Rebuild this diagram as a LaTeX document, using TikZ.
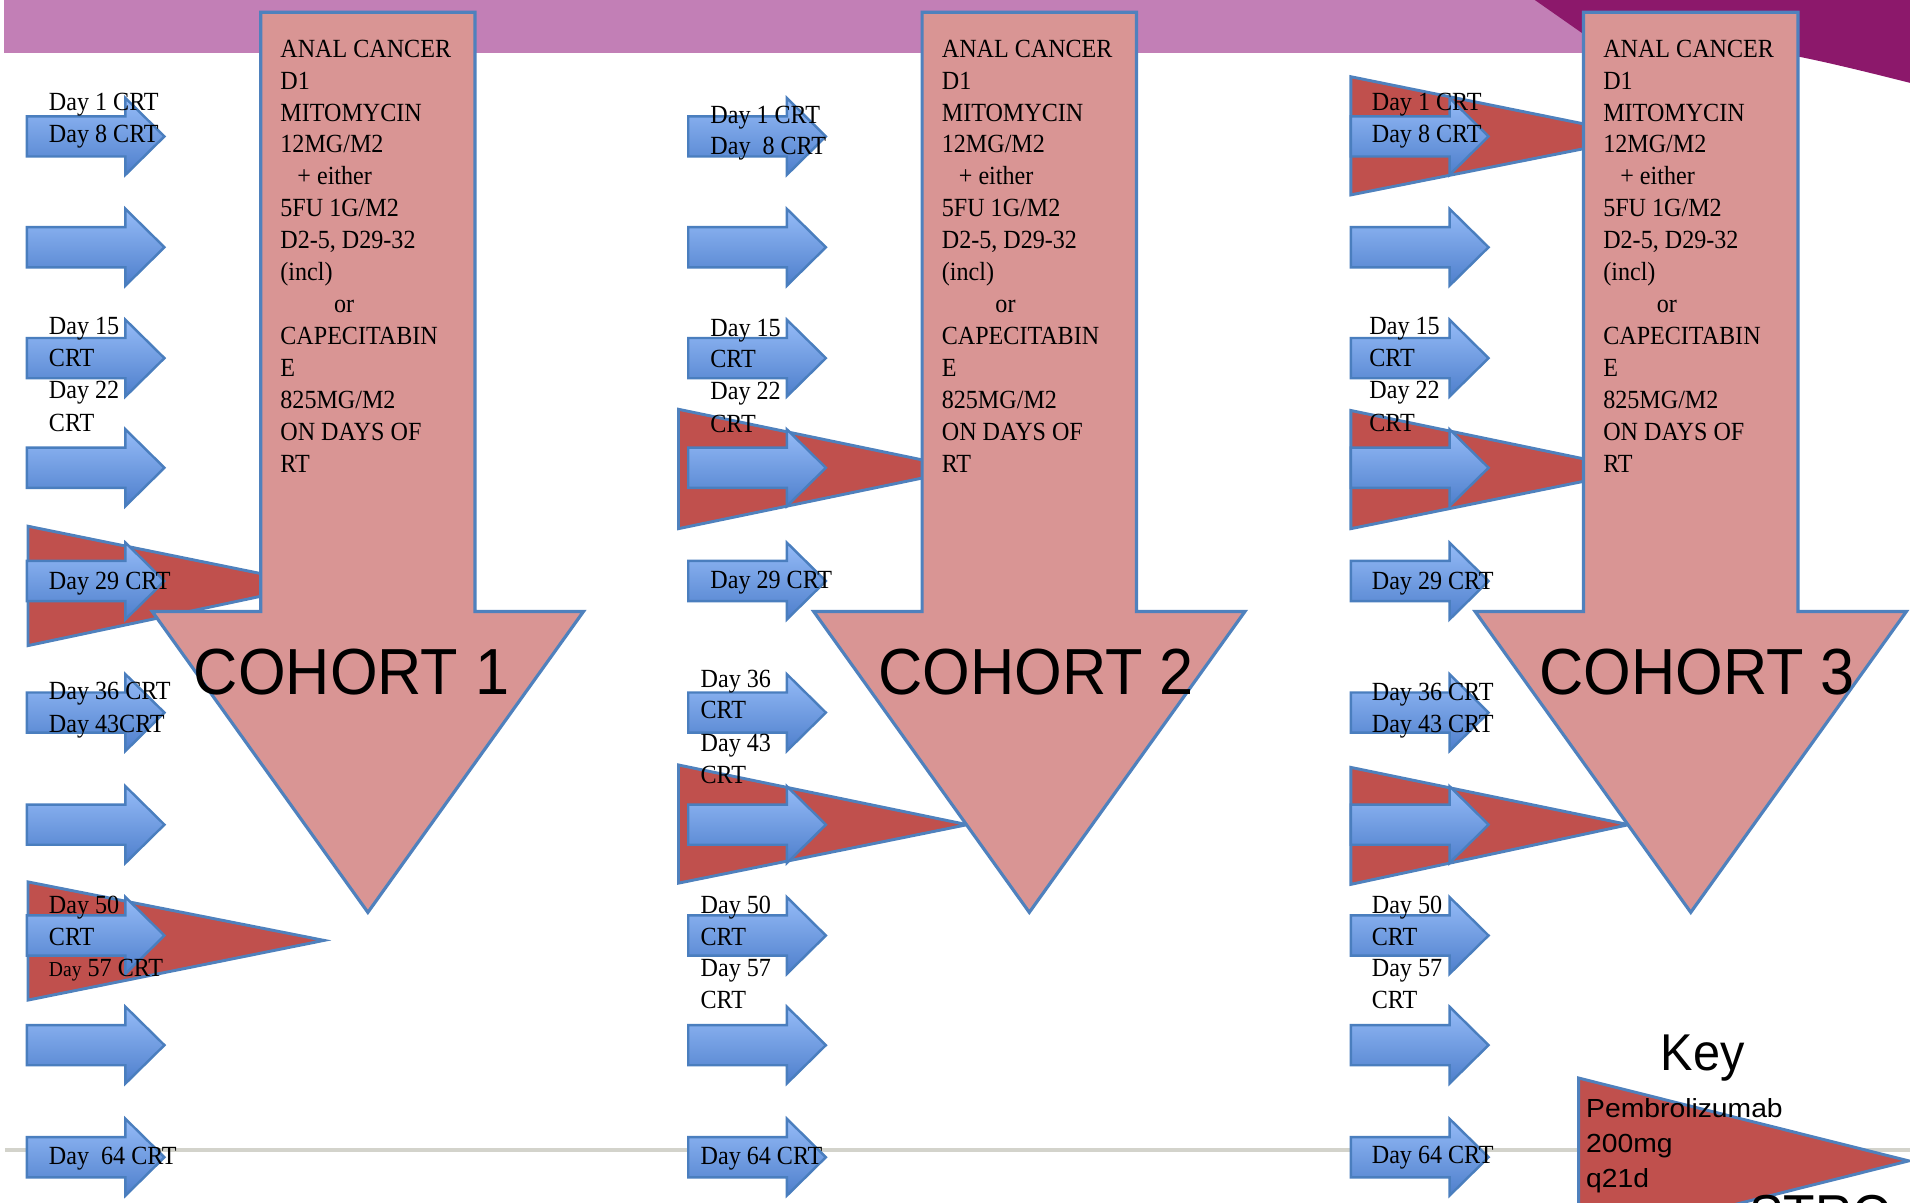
\documentclass[tikz,border=0pt]{standalone}
\usepackage{fontspec}
\setmainfont{Liberation Serif}
\newfontfamily\cambr[FakeStretch=0.92]{Liberation Serif}
\newfontfamily\headsans[FakeStretch=0.94]{Liberation Sans}
\newfontfamily\keysans[FakeStretch=1.08]{Liberation Sans}

\definecolor{bandpurple}{HTML}{C27FB6}
\definecolor{deeppurple}{HTML}{8C186B}
\definecolor{cohortpink}{HTML}{D99594}
\definecolor{edgeblue}{HTML}{4F81BD}
\definecolor{pembrored}{HTML}{C0504D}
\definecolor{crtlight}{HTML}{95BBF7}
\definecolor{crtdark}{HTML}{4E7FCC}
\definecolor{crtedge}{HTML}{4A7EBE}
\definecolor{rulegrey}{HTML}{D3D3CB}

\tikzset{
  cohortarrow/.style={fill=cohortpink, draw=edgeblue, line width=2.6pt, line join=miter},
  pembro/.style={fill=pembrored, draw=edgeblue, line width=2.4pt, line join=miter},
  crtshape/.style={top color=crtlight, bottom color=crtdark, draw=crtedge, line width=2pt, line join=miter},
  daylabel/.style={anchor=base west, inner sep=0pt, font=\cambr\fontsize{21.5}{26.2}\selectfont},
  cohortlabel/.style={anchor=base west, inner sep=0pt, font=\headsans\fontsize{53.5}{60}\selectfont},
  keytitle/.style={anchor=base west, inner sep=0pt, font=\headsans\fontsize{42.5}{48}\selectfont},
  keytext/.style={anchor=base west, inner sep=0pt, font=\keysans\fontsize{21.5}{29}\selectfont},
  foottext/.style={anchor=base west, inner sep=0pt, font=\headsans\fontsize{45}{50}\selectfont},
}

% blue block arrow: tail x, centre y
\newcommand{\crtarrow}[2]{%
  \draw[crtshape] (#1,#2-16.5) -- (#1+81,#2-16.5) -- (#1+81,#2-31.5) -- (#1+113,#2)
    -- (#1+81,#2+31.5) -- (#1+81,#2+16.5) -- (#1,#2+16.5) -- cycle;}

% red wedge: base x, top y, bottom y, tip x, tip y
\newcommand{\pembrowedge}[5]{%
  \draw[pembro] (#1,#2) -- (#4,#5) -- (#1,#3) -- cycle;}

% big down arrow with its regimen text: index, shaft left x
\newcommand{\cohortarrow}[2]{%
  \draw[cohortarrow] (#2,10) -- (#2+176,10) -- (#2+176,502) -- (#2+265,502)
    -- (#2+88,749) -- (#2-89,502) -- (#2,502) -- cycle;
  \foreach \ln [count=\k from 0] in {ANAL CANCER, D1, MITOMYCIN, 12MG/M2,
      {\hspace*{14pt}+ either}, 5FU 1G/M2, {D2-5, D29-32}, (incl),
      {\hspace*{44pt}or}, CAPECITABIN, E, 825MG/M2, ON DAYS OF, RT}
    {\node[daylabel] (rx#1-\k) at (#2+16,47+26.2*\k) {\ln};}}

\begin{document}
\begin{tikzpicture}[x=1pt,y=-1pt]
\useasboundingbox (0,0) rectangle (1568,987);
\clip (0,0) rectangle (1568,987);

% title band and corner swoosh
\fill[bandpurple] (3,0) rectangle (1568,43.5);
\fill[deeppurple] (1260,0) -- (1568,0) -- (1568,68)
  .. controls (1520,56) and (1480,46) .. (1440,40) -- (1300,28) -- cycle;

% footer rule
\draw[rulegrey, line width=3.2pt] (4,944) -- (1568,944);

% pembrolizumab wedges
\pembrowedge{23}{432}{530}{259}{480}
\pembrowedge{23}{724}{821}{266}{772}
\pembrowedge{557}{336}{434}{793}{385}
\pembrowedge{557}{628}{725}{794}{677}
\pembrowedge{1109}{63}{160}{1351}{112}
\pembrowedge{1109}{337}{434}{1345}{386}
\pembrowedge{1109}{630}{726}{1337}{677}

% weekly CRT arrows
\foreach \cx in {22,565,1109}{%
  \foreach \cy in {112,203,294,384,477,585,677,768,858,950}{%
    \crtarrow{\cx}{\cy}}}

% cohort arrows
\cohortarrow{1}{214}
\cohortarrow{2}{757}
\cohortarrow{3}{1300}

\node[cohortlabel] (co1) at (159,570.5) {COHORT 1};
\node[cohortlabel] (co2) at (721,570.5) {COHORT 2};
\node[cohortlabel] (co3) at (1263.6,570.5) {COHORT 3};

% cohort 1 day labels
\node[daylabel] (a1) at (40,91) {Day 1 CRT};
\node[daylabel] (a2) at (40,117) {Day 8 CRT};
\node[daylabel] (a3) at (40,275) {Day 15};
\node[daylabel] (a4) at (40,301) {CRT};
\node[daylabel] (a5) at (40,327) {Day 22};
\node[daylabel] (a6) at (40,354) {CRT};
\node[daylabel] (a7) at (40,484) {Day 29 CRT};
\node[daylabel] (a8) at (40,574) {Day 36 CRT};
\node[daylabel] (a9) at (40,601) {Day 43CRT};
\node[daylabel] (a10) at (40,750) {Day 50};
\node[daylabel] (a11) at (40,776) {CRT};
\node[daylabel] (a12) at (40,802) {{\fontsize{17.5}{20}\selectfont Day} 57 CRT};
\node[daylabel] (a13) at (40,956) {Day\ \ 64 CRT};

% cohort 2 day labels
\node[daylabel] (b1) at (583,101) {Day 1 CRT};
\node[daylabel] (b2) at (583,127) {Day\ \ 8 CRT};
\node[daylabel] (b3) at (583,276) {Day 15};
\node[daylabel] (b4) at (583,302) {CRT};
\node[daylabel] (b5) at (583,328) {Day 22};
\node[daylabel] (b6) at (583,355) {CRT};
\node[daylabel] (b7) at (583,483) {Day 29 CRT};
\node[daylabel] (b8) at (575,564) {Day 36};
\node[daylabel] (b9) at (575,590) {CRT};
\node[daylabel] (b10) at (575,617) {Day 43};
\node[daylabel] (b11) at (575,643) {CRT};
\node[daylabel] (b12) at (575,750) {Day 50};
\node[daylabel] (b13) at (575,776) {CRT};
\node[daylabel] (b14) at (575,802) {Day 57};
\node[daylabel] (b15) at (575,828) {CRT};
\node[daylabel] (b16) at (575,956) {Day 64 CRT};

% cohort 3 day labels
\node[daylabel] (c1) at (1126,91) {Day 1 CRT};
\node[daylabel] (c2) at (1126,117) {Day 8 CRT};
\node[daylabel] (c3) at (1124,275) {Day 15};
\node[daylabel] (c4) at (1124,301) {CRT};
\node[daylabel] (c5) at (1124,327) {Day 22};
\node[daylabel] (c6) at (1124,354) {CRT};
\node[daylabel] (c7) at (1126,484) {Day 29 CRT};
\node[daylabel] (c8) at (1126,575) {Day 36 CRT};
\node[daylabel] (c9) at (1126,601) {Day 43 CRT};
\node[daylabel] (c10) at (1126,750) {Day 50};
\node[daylabel] (c11) at (1126,776) {CRT};
\node[daylabel] (c12) at (1126,802) {Day 57};
\node[daylabel] (c13) at (1126,828) {CRT};
\node[daylabel] (c14) at (1126,955) {Day 64 CRT};

% key
\node[keytitle] (keyhead) at (1363,879) {Key};
\pembrowedge{1296}{885}{1021}{1567}{953}
\node[keytext] (k1) at (1302,917) {Pembrolizumab};
\node[keytext] (k2) at (1302,946) {200mg};
\node[keytext] (k3) at (1302,975) {q21d};

% footer heading, only its top shows above the page edge
\node[foottext] (foot) at (1436,1013) {STRO};
\end{tikzpicture}
\end{document}
